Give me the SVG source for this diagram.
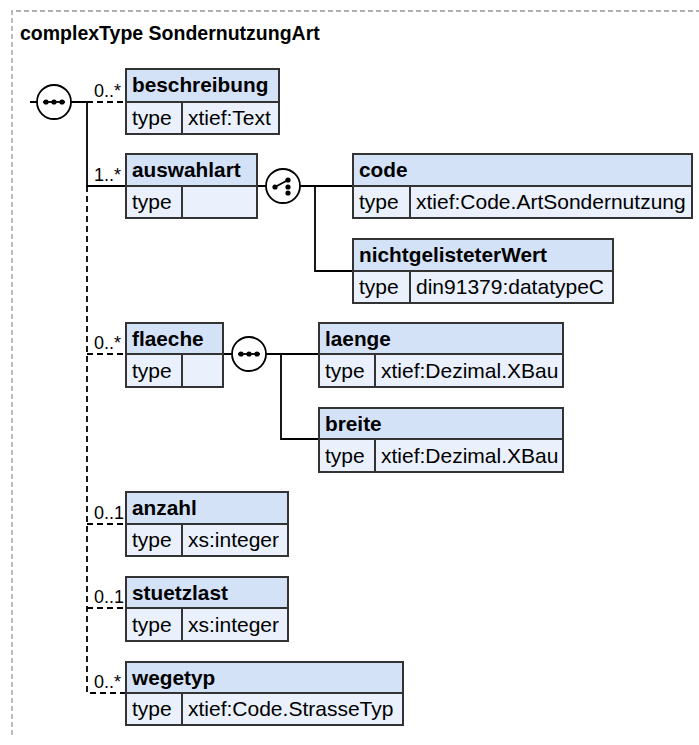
<svg xmlns="http://www.w3.org/2000/svg" width="699" height="745" viewBox="0 0 699 745">
<style>
text{font-family:"Liberation Sans",Arial,sans-serif;fill:#000}
.title{font-size:19.5px;font-weight:bold}
.name{font-size:20.8px;font-weight:bold}
.lbl{font-size:21px}
.card{font-size:18px}
.hd{fill:#d4e2f8;stroke:#333;stroke-width:2}
.bd{fill:#eaf1fc;stroke:#333;stroke-width:2}
.sep{stroke:#333;stroke-width:2}
.c{fill:none;stroke:#000;stroke-width:1.8}
.d{fill:none;stroke:#000;stroke-width:1.8;stroke-dasharray:6,4}
.ic{fill:#fff;stroke:#000;stroke-width:1.8}
.dot{fill:#000}
</style>
<path d="M12,735 V11 H699" fill="none" stroke="#999" stroke-width="1.3" stroke-dasharray="5,3"/>
<text class="title" x="20" y="40">complexType SondernutzungArt</text>

<g id="connectors">
<path class="c" d="M30,102 H37 M71,102 H87 V186 H126"/>
<path class="d" d="M87,102 H126"/>
<path class="d" d="M87,186 V693 H126 M87,354 H126 M87,524 H126 M87,608 H126"/>
<path class="c" d="M257,186 H266 M300,186 H353 M315,186 V271 H353"/>
<path class="c" d="M223,354 H232 M266,354 H319 M281,354 V439 H319"/>
<text class="card" x="94" y="97">0..*</text>
<text class="card" x="94" y="181">1..*</text>
<text class="card" x="94" y="349">0..*</text>
<text class="card" x="94" y="519">0..1</text>
<text class="card" x="94" y="603">0..1</text>
<text class="card" x="94" y="688">0..*</text>
</g>

<g id="seq1">
<circle class="ic" cx="54" cy="102" r="17"/>
<path class="c" d="M43,102 H65"/>
<circle class="dot" cx="46" cy="102" r="2.6"/><circle class="dot" cx="54" cy="102" r="2.6"/><circle class="dot" cx="62" cy="102" r="2.6"/>
</g>
<g id="choice1">
<circle class="ic" cx="283" cy="186" r="17"/>
<path class="c" d="M275,187 L288,180"/>
<circle class="dot" cx="275" cy="187" r="2.6"/><circle class="dot" cx="288" cy="180" r="2.6"/><circle class="dot" cx="288" cy="187" r="2.6"/><circle class="dot" cx="288" cy="193" r="2.6"/>
</g>
<g id="seq2">
<circle class="ic" cx="249" cy="354" r="17"/>
<path class="c" d="M238,354 H260"/>
<circle class="dot" cx="241" cy="354" r="2.6"/><circle class="dot" cx="249" cy="354" r="2.6"/><circle class="dot" cx="257" cy="354" r="2.6"/>
</g>

<g id="beschreibung">
<rect class="hd" x="126" y="69" width="153" height="33"/>
<rect class="bd" x="126" y="102" width="153" height="32"/>
<line class="sep" x1="182" y1="102" x2="182" y2="134"/>
<text class="name" x="132" y="92">beschreibung</text>
<text class="lbl" x="132" y="125">type</text>
<text class="lbl" x="188" y="125">xtief:Text</text>
</g>
<g id="auswahlart">
<rect class="hd" x="126" y="154" width="131" height="32"/>
<rect class="bd" x="126" y="186" width="131" height="32"/>
<line class="sep" x1="182" y1="186" x2="182" y2="218"/>
<text class="name" x="132" y="177">auswahlart</text>
<text class="lbl" x="132" y="209">type</text>
</g>
<g id="code">
<rect class="hd" x="353" y="154" width="339" height="32"/>
<rect class="bd" x="353" y="186" width="339" height="32"/>
<line class="sep" x1="410" y1="186" x2="410" y2="218"/>
<text class="name" x="359" y="177">code</text>
<text class="lbl" x="359" y="209">type</text>
<text class="lbl" x="416" y="209">xtief:Code.ArtSondernutzung</text>
</g>
<g id="nichtgelisteterWert">
<rect class="hd" x="353" y="239" width="260" height="32"/>
<rect class="bd" x="353" y="271" width="260" height="32"/>
<line class="sep" x1="410" y1="271" x2="410" y2="303"/>
<text class="name" x="359" y="262">nichtgelisteterWert</text>
<text class="lbl" x="359" y="294">type</text>
<text class="lbl" x="416" y="294">din91379:datatypeC</text>
</g>
<g id="flaeche">
<rect class="hd" x="126" y="323" width="97" height="31"/>
<rect class="bd" x="126" y="354" width="97" height="33"/>
<line class="sep" x1="182" y1="354" x2="182" y2="387"/>
<text class="name" x="132" y="346">flaeche</text>
<text class="lbl" x="132" y="378">type</text>
</g>
<g id="laenge">
<rect class="hd" x="319" y="323" width="244" height="31"/>
<rect class="bd" x="319" y="354" width="244" height="33"/>
<line class="sep" x1="375" y1="354" x2="375" y2="387"/>
<text class="name" x="325" y="346">laenge</text>
<text class="lbl" x="325" y="378">type</text>
<text class="lbl" x="381" y="378">xtief:Dezimal.XBau</text>
</g>
<g id="breite">
<rect class="hd" x="319" y="408" width="244" height="31"/>
<rect class="bd" x="319" y="439" width="244" height="33"/>
<line class="sep" x1="375" y1="439" x2="375" y2="472"/>
<text class="name" x="325" y="431">breite</text>
<text class="lbl" x="325" y="463">type</text>
<text class="lbl" x="381" y="463">xtief:Dezimal.XBau</text>
</g>
<g id="anzahl">
<rect class="hd" x="126" y="492" width="162" height="32"/>
<rect class="bd" x="126" y="524" width="162" height="32"/>
<line class="sep" x1="182" y1="524" x2="182" y2="556"/>
<text class="name" x="132" y="515">anzahl</text>
<text class="lbl" x="132" y="547">type</text>
<text class="lbl" x="188" y="547">xs:integer</text>
</g>
<g id="stuetzlast">
<rect class="hd" x="126" y="577" width="162" height="31"/>
<rect class="bd" x="126" y="608" width="162" height="33"/>
<line class="sep" x1="182" y1="608" x2="182" y2="641"/>
<text class="name" x="132" y="600">stuetzlast</text>
<text class="lbl" x="132" y="632">type</text>
<text class="lbl" x="188" y="632">xs:integer</text>
</g>
<g id="wegetyp">
<rect class="hd" x="126" y="662" width="277" height="31"/>
<rect class="bd" x="126" y="693" width="277" height="32"/>
<line class="sep" x1="182" y1="693" x2="182" y2="725"/>
<text class="name" x="132" y="685">wegetyp</text>
<text class="lbl" x="132" y="716">type</text>
<text class="lbl" x="188" y="716">xtief:Code.StrasseTyp</text>
</g>
</svg>
